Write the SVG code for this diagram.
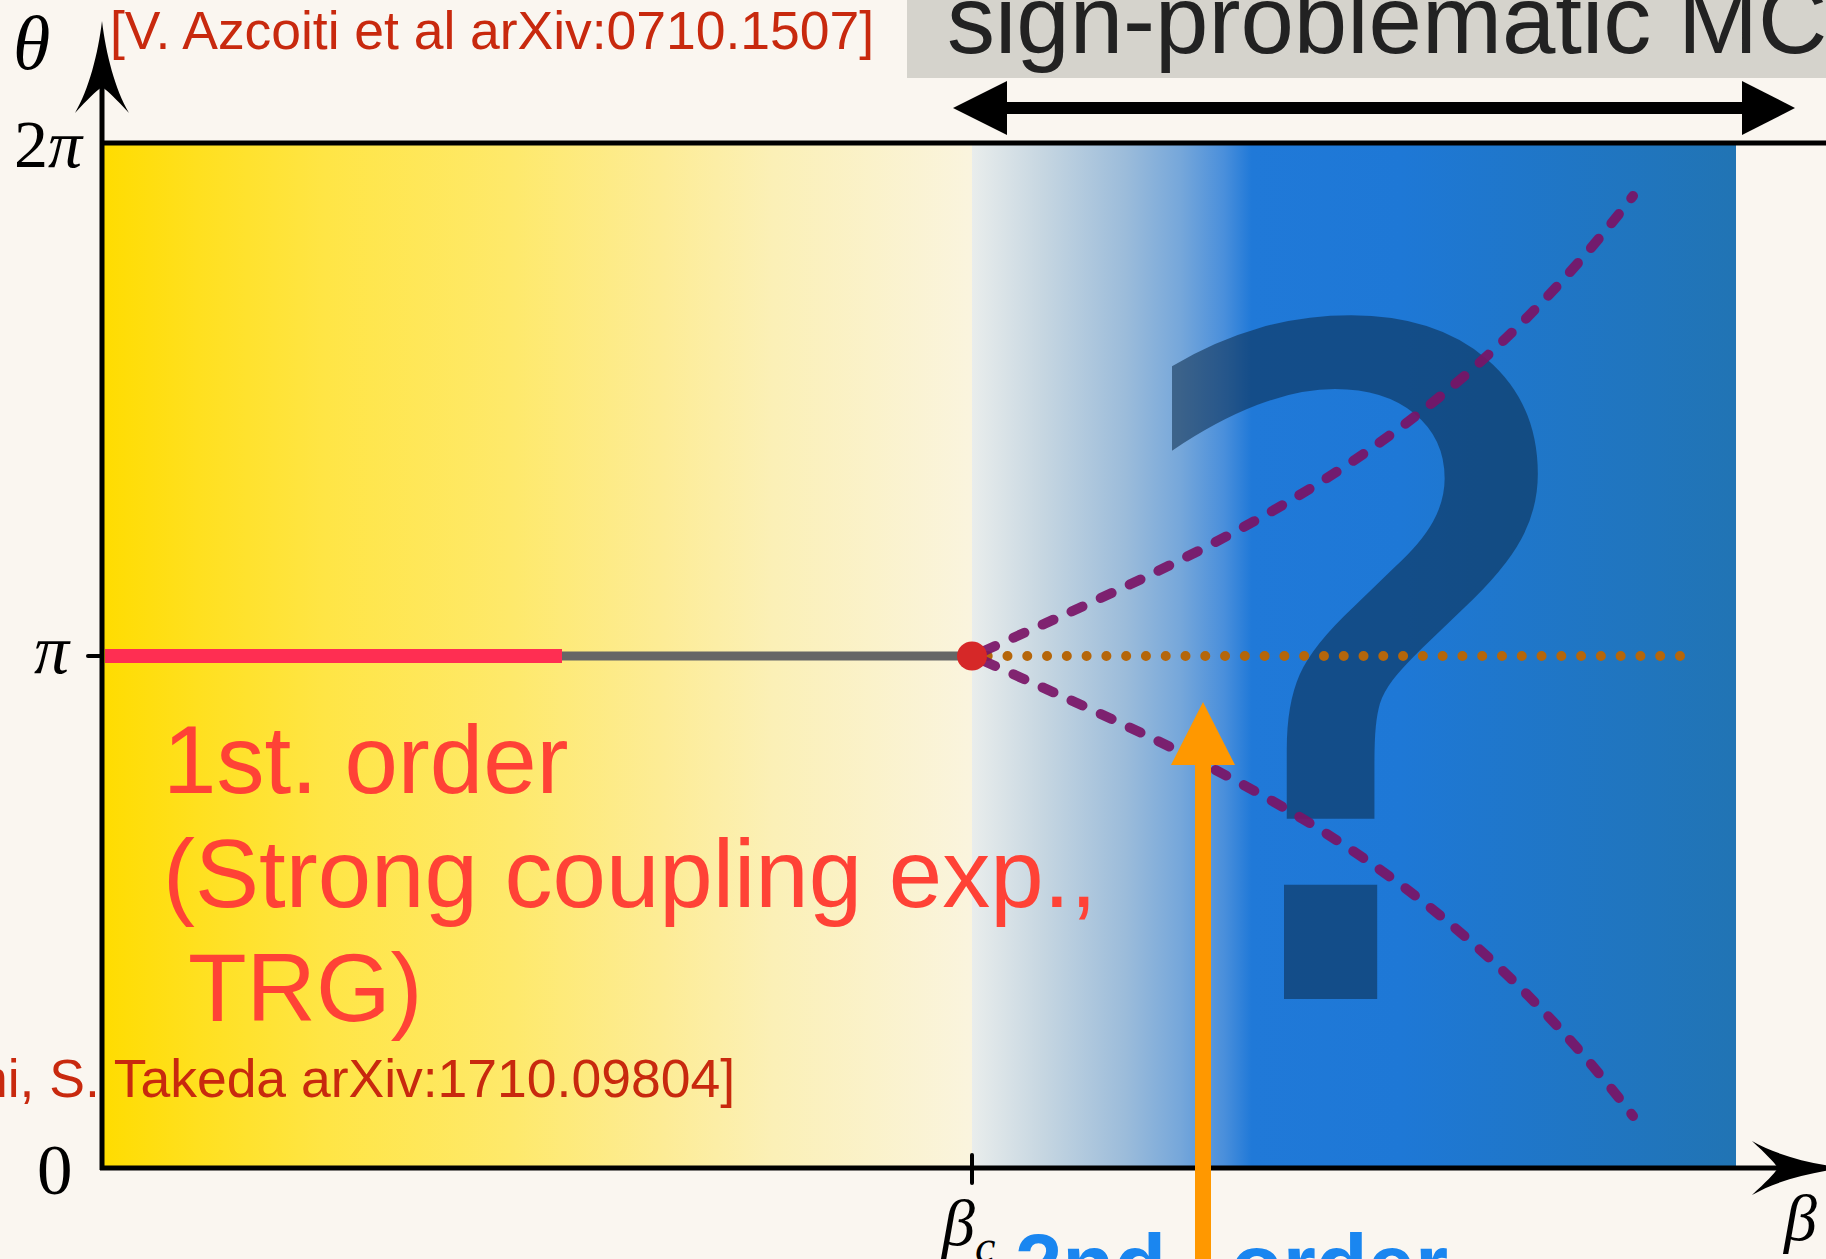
<svg xmlns="http://www.w3.org/2000/svg" width="1826" height="1259" viewBox="0 0 1826 1259">
<defs>
<linearGradient id="gYellow" gradientUnits="userSpaceOnUse" x1="102" y1="0" x2="972" y2="0">
<stop offset="0" stop-color="#ffdc00"/>
<stop offset="0.11" stop-color="#ffe01f"/>
<stop offset="0.255" stop-color="#ffe545"/>
<stop offset="0.47" stop-color="#fee96b"/>
<stop offset="0.645" stop-color="#fdec96"/>
<stop offset="0.77" stop-color="#fbf0b6"/>
<stop offset="1" stop-color="#faf4de"/>
</linearGradient>
<linearGradient id="gBlue" gradientUnits="userSpaceOnUse" x1="972" y1="0" x2="1736" y2="0">
<stop offset="0" stop-color="#e9edec"/>
<stop offset="0.093" stop-color="#c6d6e1"/>
<stop offset="0.2" stop-color="#9cbcda"/>
<stop offset="0.273" stop-color="#76a7da"/>
<stop offset="0.33" stop-color="#4a8fdb"/>
<stop offset="0.366" stop-color="#2079d8"/>
<stop offset="0.56" stop-color="#1e78d6"/>
<stop offset="1" stop-color="#2174b4"/>
</linearGradient>
<path id="ahead" d="M0,0 C4,33 13,68 27,92 C14,78 6,70 0,66 C-6,70 -14,78 -27,92 C-13,68 -4,33 0,0 Z" fill="#000"/>
</defs>
<style>
.math{font-family:"Liberation Serif","DejaVu Serif",serif;font-style:italic;fill:#000}
.up{font-style:normal}
.cite{font-family:"Liberation Sans",Arial,sans-serif;font-size:53.5px;fill:#c8290e}
.red{font-family:"Liberation Sans",Arial,sans-serif;font-size:96px;fill:#ff4236}
.axis{stroke:#000;stroke-width:5;fill:none}
.tick{stroke:#000;stroke-width:4;stroke-linecap:round}
.phase{fill:none;stroke:#7a1366;stroke-opacity:0.92;stroke-width:10;stroke-linecap:round;stroke-dasharray:12 20}
</style>
<rect width="1826" height="1259" fill="#faf6f0"/>

<g id="plot-area">
<rect x="102" y="143" width="870" height="1025" fill="url(#gYellow)"/>
<rect x="972" y="143" width="764" height="1025" fill="url(#gBlue)"/>
</g>

<g id="question-mark" opacity="0.55">
<text transform="translate(1354,999) scale(1,0.98)" x="0" y="0" text-anchor="middle" font-family="DejaVu Sans, sans-serif" font-size="940" fill="#0b2a4a">?</text>
</g>

<g id="sign-box">
<rect x="907" y="-10" width="930" height="88" fill="#d5d3cc"/>
<text x="947" y="53" font-family="Liberation Sans, Arial, sans-serif" font-size="96" fill="#222">sign-problematic MC</text>
</g>

<g id="connectors">
<line x1="105" y1="656" x2="562" y2="656" stroke="#ff2e52" stroke-width="14"/>
<line x1="562" y1="656" x2="972" y2="656" stroke="#666" stroke-width="9"/>
<line x1="987.7" y1="656" x2="1680" y2="656" stroke="#b5660a" stroke-width="10" stroke-linecap="round" stroke-dasharray="0 19.78"/>
<path class="phase" d="M984,651 C1222,543.5 1433,456 1633,196"/>
<path class="phase" d="M984,661 C1222,768.5 1433,856 1633,1116"/>
<line x1="1000" y1="108" x2="1750" y2="108" stroke="#000" stroke-width="12"/>
<polygon points="953,108 1007,81 1007,135" fill="#000"/>
<polygon points="1795,108 1742,81 1742,135" fill="#000"/>
</g>

<g id="critical-point">
<ellipse cx="972" cy="656" rx="15" ry="14.5" fill="#d62828"/>
</g>

<g id="axes">
<line class="axis" x1="100" y1="143" x2="1826" y2="143"/>
<line class="axis" x1="102" y1="1170" x2="102" y2="80"/>
<use href="#ahead" transform="translate(102,21)"/>
<line class="axis" x1="100" y1="1168" x2="1790" y2="1168"/>
<use href="#ahead" transform="translate(1844,1168) rotate(90)"/>
<line class="tick" x1="88" y1="656" x2="102" y2="656"/>
<line class="tick" x1="972" y1="1155" x2="972" y2="1183"/>
</g>

<g id="orange-arrow">
<rect x="1195" y="760" width="16" height="510" fill="#ff9800"/>
<polygon points="1203,702 1235,765 1171,765" fill="#ff9800"/>
</g>

<g id="labels">
<text class="math" x="13" y="69" font-size="76">θ</text>
<text class="math" x="14" y="167" font-size="68"><tspan class="up">2</tspan>π</text>
<text class="math" x="34" y="673" font-size="70">π</text>
<text class="math up" x="37" y="1194" font-size="71">0</text>
<text class="math" x="942" y="1245" font-size="66">β<tspan font-size="46" dy="17">c</tspan></text>
<text class="math" x="1784" y="1240" font-size="66">β</text>
<text class="cite" x="110" y="49" textLength="764">[V. Azcoiti et al arXiv:0710.1507]</text>
<text class="cite" x="-22" y="1097" textLength="757">hi, S. Takeda arXiv:1710.09804]</text>
<text class="red" x="163" y="793">1st. order</text>
<text class="red" x="163" y="907">(Strong coupling exp.,</text>
<text class="red" x="163" y="1021" xml:space="preserve"> TRG)</text>
<text x="1015" y="1294" font-family="Liberation Sans, Arial, sans-serif" font-weight="bold" font-size="85" word-spacing="41" fill="#1a86f0">2nd order</text>
</g>
</svg>
